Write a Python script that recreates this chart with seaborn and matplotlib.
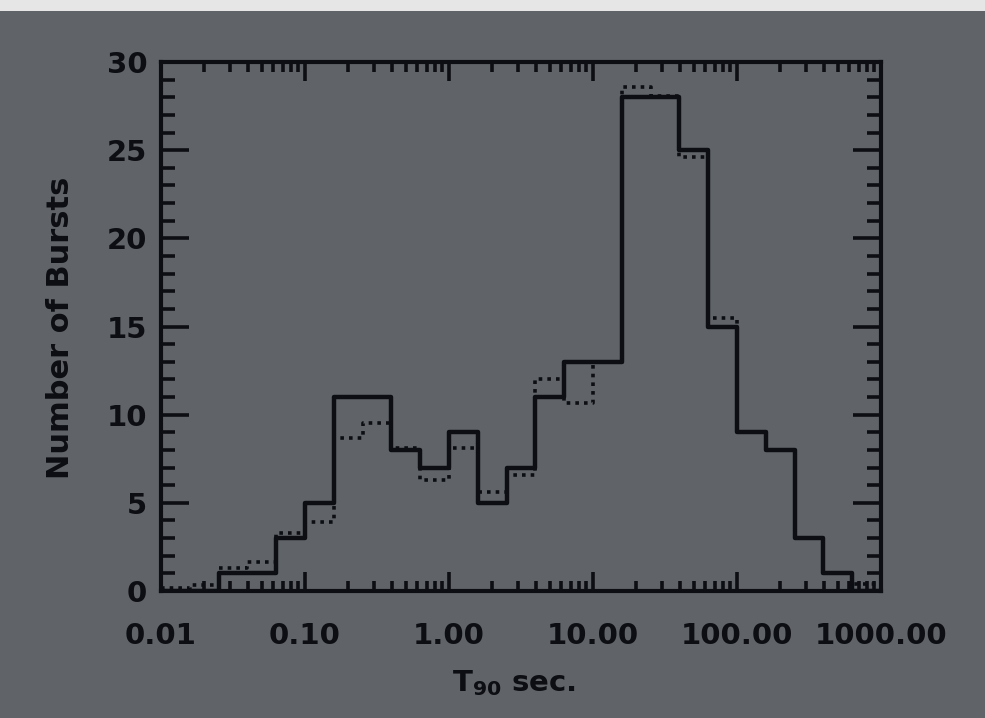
import numpy as np
import pandas as pd
import matplotlib
matplotlib.use("Agg")
import matplotlib.pyplot as plt
import seaborn as sns
from matplotlib.ticker import FixedLocator, LogLocator, NullFormatter, MultipleLocator
from matplotlib.patches import Rectangle

# ---------------- data ----------------
log_bin_edges = np.round(np.arange(-2.0, 3.0001, 0.2), 1)   # log10(T90) bin edges, 0.2 dex
solid_counts = [0, 0, 1, 1, 3, 5, 11, 11, 8, 7, 9, 5, 7, 11, 13, 13,
                28, 28, 25, 15, 9, 8, 3, 1, 0]
dotted_counts = [0.15, 0.35, 1.3, 1.65, 3.3, 3.9, 8.7, 9.55, 8.1, 6.3, 8.1, 5.6, 6.6,
                 12.0, 10.65, 13.0, 28.6, 28.1, 24.6, 15.5, 9.0, 8.0, 3.0, 1.0, 0.4]
x_ticks = [0.01, 0.1, 1, 10, 100, 1000]
x_tick_labels = ["0.01", "0.10", "1.00", "10.00", "100.00", "1000.00"]
y_ticks = [0, 5, 10, 15, 20, 25, 30]
y_tick_labels = ["0", "5", "10", "15", "20", "25", "30"]

centers = 10 ** ((log_bin_edges[:-1] + log_bin_edges[1:]) / 2)
df = pd.DataFrame({"t90": np.concatenate([centers, centers]),
                   "count": solid_counts + dotted_counts,
                   "series": ["solid"] * len(solid_counts) + ["dotted"] * len(dotted_counts)})
n_bins = len(solid_counts)
bin_range = (float(log_bin_edges[0]), float(log_bin_edges[-1]))

# ---------------- style ----------------
BG = "#606367"
INK = "#0c0e13"
sns.set_style("ticks")
plt.rcParams["font.family"] = ["DejaVu Sans"]
plt.rcParams["font.weight"] = "bold"
plt.rcParams["mathtext.fontset"] = "custom"
plt.rcParams["mathtext.rm"] = "DejaVu Sans:bold"
plt.rcParams["mathtext.bf"] = "DejaVu Sans:bold"
plt.rcParams["mathtext.it"] = "DejaVu Sans:bold"

fig = plt.figure(figsize=(9.85, 7.18), dpi=100, facecolor=BG)
ax = fig.add_axes([0.1635, 0.1769, 0.7310, 0.7367])
ax.set_facecolor(BG)

sns.histplot(data=df[df.series == "dotted"], x="t90", weights="count",
             bins=n_bins, binrange=bin_range, log_scale=True, element="step", fill=False,
             color=INK, linewidth=2.6, linestyle=(0, (1, 1.4)), ax=ax)
sns.histplot(data=df[df.series == "solid"], x="t90", weights="count",
             bins=n_bins, binrange=bin_range, log_scale=True, element="step", fill=False,
             color=INK, linewidth=3.2, ax=ax)

ax.set_xlim(0.01, 1000)
ax.set_ylim(0, 30)

ax.xaxis.set_major_locator(FixedLocator(x_ticks))
ax.set_xticklabels(x_tick_labels)
ax.xaxis.set_minor_locator(LogLocator(base=10, subs=np.arange(2, 10)))
ax.xaxis.set_minor_formatter(NullFormatter())
ax.yaxis.set_major_locator(FixedLocator(y_ticks))
ax.set_yticklabels(y_tick_labels)
ax.yaxis.set_minor_locator(MultipleLocator(1))

ax.tick_params(which="both", direction="in", top=True, right=True,
               color=INK, width=2.6, labelcolor=INK, labelsize=21)
ax.tick_params(axis="x", which="major", length=14, pad=22)
ax.tick_params(axis="x", which="minor", length=7)
ax.tick_params(axis="y", which="major", length=20, pad=10)
ax.tick_params(axis="y", which="minor", length=10)
for lab in ax.get_xticklabels() + ax.get_yticklabels():
    lab.set_fontweight("bold")

for sp in ax.spines.values():
    sp.set_visible(True)
    sp.set_color(INK)
    sp.set_linewidth(3.0)

ax.set_ylabel("Number of Bursts", fontsize=22, fontweight="bold", color=INK,
              va="center")
ax.yaxis.set_label_coords(-0.14, 0.497)
ax.set_xlabel(r"T$_{90}$ sec.", fontsize=21, fontweight="bold", color=INK, va="center")
ax.xaxis.set_label_coords(0.49, -0.175)

# light photo border at the top
fig.add_artist(Rectangle((0, 1 - 11 / 718), 1, 11 / 718, transform=fig.transFigure,
                         facecolor="#e6e6e6", edgecolor="none"))

fig.savefig("out.png", dpi=100, facecolor=BG)
